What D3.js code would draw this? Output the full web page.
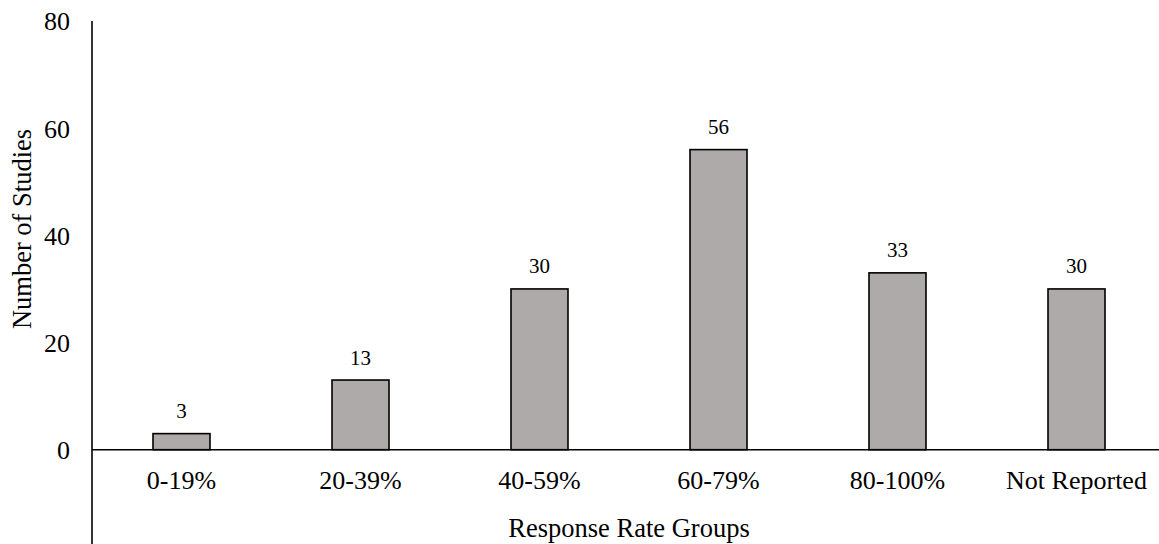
<!DOCTYPE html>
<html>
<head>
<meta charset="utf-8">
<script src="https://cdn.jsdelivr.net/npm/d3@7"></script>
<style>
  html, body { margin: 0; padding: 0; background: #fff; }
  svg { display: block; }
  text { font-family: "Liberation Serif", "Times New Roman", serif; fill: #000; }
</style>
</head>
<body>
<svg id="chart" width="1159" height="544"></svg>
<script>
const categories = ["0-19%", "20-39%", "40-59%", "60-79%", "80-100%", "Not Reported"];
const values = [3, 13, 30, 56, 33, 30];
const yTicks = [0, 20, 40, 60, 80];
const xTitle = "Response Rate Groups";
const yTitle = "Number of Studies";

const W = 1159, H = 544;
const plotLeft = 92, plotRight = 1166, plotTop = 21, zeroY = 449.7;

const svg = d3.select("#chart");

const x = d3.scaleBand()
  .domain(categories)
  .range([plotLeft, plotRight])
  .paddingInner(0.6816)
  .paddingOuter(0.3408);

const y = d3.scaleLinear()
  .domain([0, 80])
  .range([zeroY, plotTop]);

// bars
svg.append("g").selectAll("rect")
  .data(values)
  .join("rect")
  .attr("x", (d, i) => x(categories[i]))
  .attr("y", d => y(d))
  .attr("width", x.bandwidth())
  .attr("height", d => y(0) - y(d))
  .attr("fill", "#aeaaaa")
  .attr("stroke", "#000")
  .attr("stroke-width", 1.6);

// data labels
svg.append("g").selectAll("text")
  .data(values)
  .join("text")
  .attr("x", (d, i) => x(categories[i]) + x.bandwidth() / 2)
  .attr("y", d => y(d) - 15.5)
  .attr("text-anchor", "middle")
  .style("font-size", "21px")
  .text(d => d);

// x axis
const xAxis = svg.append("g")
  .attr("transform", `translate(0,${y(0)})`)
  .call(d3.axisBottom(x).tickSize(0).tickPadding(0));
xAxis.select(".domain").attr("stroke", "#000").attr("stroke-width", 1.6).attr("d", `M${plotLeft},0H${plotRight}`);
xAxis.selectAll(".tick text")
  .attr("y", 39.5)
  .attr("dy", null)
  .style("font-size", "26px")
  .style("font-family", "Liberation Serif, Times New Roman, serif");

// y axis
const yAxis = svg.append("g")
  .attr("transform", `translate(${plotLeft},0)`)
  .call(d3.axisLeft(y).tickValues(yTicks).tickSize(0).tickPadding(22));
yAxis.select(".domain").attr("stroke", "#000").attr("stroke-width", 1.6).attr("d", `M0,${plotTop}V${H + 2}`);
yAxis.selectAll(".tick text")
  .attr("dy", "0.34em")
  .style("font-size", "26px")
  .style("font-family", "Liberation Serif, Times New Roman, serif");

// axis titles
svg.append("text")
  .attr("x", (plotLeft + plotRight) / 2)
  .attr("y", 537)
  .attr("text-anchor", "middle")
  .style("font-size", "26.5px")
  .text(xTitle);

svg.append("text")
  .attr("transform", `translate(31,229) rotate(-90)`)
  .attr("text-anchor", "middle")
  .style("font-size", "26.5px")
  .text(yTitle);
</script>
</body>
</html>
